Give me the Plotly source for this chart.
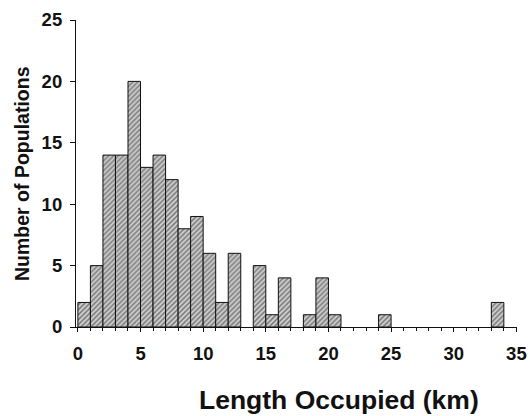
import plotly.graph_objects as go

bin_starts = [0, 1, 2, 3, 4, 5, 6, 7, 8, 9, 10, 11, 12, 14, 15, 16, 18, 19, 20, 24, 33]
counts =     [2, 5, 14, 14, 20, 13, 14, 12, 8, 9, 6, 2, 6, 5, 1, 4, 1, 4, 1, 1, 2]
x_ticks = [0, 5, 10, 15, 20, 25, 30, 35]
y_ticks = [0, 5, 10, 15, 20, 25]
x_title = "Length Occupied (km)"
y_title = "Number of Populations"

centers = [b + 0.5 for b in bin_starts]

fig = go.Figure(go.Bar(
    x=centers, y=counts, width=1,
    marker=dict(
        color="#c8c8c8",
        line=dict(color="#111", width=1),
        pattern=dict(shape="/", size=3.5, solidity=0.45, fgcolor="#262626", bgcolor="#cfcfcf"),
    ),
))

L, R, T, B = 76, 13, 20, 89
W, H = 530, 416
pw, ph = W - L - R, H - T - B

font = "Liberation Sans, Arial, sans-serif"
fig.update_layout(
    width=W, height=H,
    margin=dict(l=L, r=R, t=T, b=B),
    paper_bgcolor="white", plot_bgcolor="white",
    showlegend=False,
    font=dict(family=font, color="#111"),
    xaxis=dict(
        range=[-0.15, 35.05], tickvals=x_ticks, ticktext=[f"<b>{v}</b>" for v in x_ticks],
        ticks="outside", ticklen=4, tickwidth=1, tickcolor="#111",
        minor=dict(dtick=1, ticks="outside", ticklen=3, tickcolor="#111"),
        showline=True, linecolor="#111", linewidth=1.2, showgrid=False, zeroline=False,
        tickfont=dict(size=18.5, family=font), ticklabelstandoff=6,
        automargin=False,
    ),
    yaxis=dict(
        range=[0, 25], tickvals=y_ticks, ticktext=[f"<b>{v}</b>" for v in y_ticks],
        ticks="outside", ticklen=5, tickwidth=1, tickcolor="#111",
        showline=True, linecolor="#111", linewidth=1.2, showgrid=False, zeroline=False,
        tickfont=dict(size=18.5, family=font), ticklabelstandoff=4,
        automargin=False,
    ),
    annotations=[
        dict(text=f"<b>{x_title}</b>", x=(339 - L) / pw, y=(H - B - 400) / ph,
             xref="paper", yref="paper", xanchor="center", yanchor="middle",
             showarrow=False, font=dict(size=26.5, family=font, color="#111")),
        dict(text=f"<b>{y_title}</b>", textangle=-90, x=(22 - L) / pw, y=(H - B - 174) / ph,
             xref="paper", yref="paper", xanchor="center", yanchor="middle",
             showarrow=False, font=dict(size=19.5, family=font, color="#111")),
    ],
)

fig.write_html("out.html", config={"displayModeBar": False},
               post_script="document.body.style.margin='0';")
